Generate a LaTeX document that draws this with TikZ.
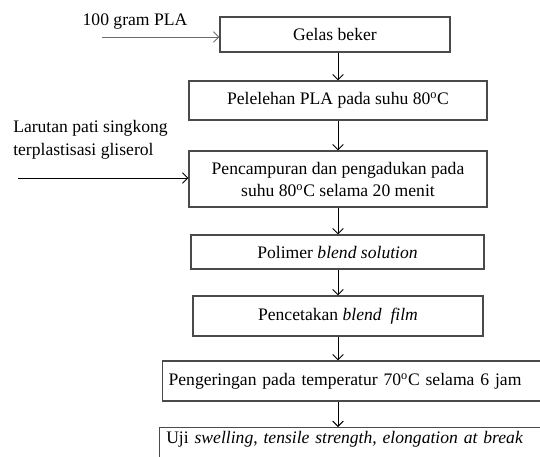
\documentclass[tikz,border=0pt]{standalone}
\usepackage{fontspec}
\setmainfont{Liberation Serif}
\usetikzlibrary{arrows.meta}
\definecolor{edgec}{HTML}{4A4A4A}
\definecolor{feedc}{HTML}{6B6B6B}
\tikzset{
  box/.style={draw=edgec,line width=0.9pt,align=center,inner sep=2pt,font=\fontsize{13.2}{16.5}\selectfont},
  ar/.style={-{Straight Barb[length=4pt,width=8pt]},line width=0.7pt,black},
  lbl/.style={font=\fontsize{13.2}{17.5}\selectfont,align=left,inner sep=0pt}
}

\begin{document}
\begin{tikzpicture}[x=0.75pt,y=-0.75pt]
\useasboundingbox (0,0) rectangle (540,457);
\clip (0,0) rectangle (540,457);
% process steps
\node[box,minimum width=172.5pt,minimum height=26.25pt] (beker) at (335,34.5) {Gelas beker};
\node[box,minimum width=223.5pt,minimum height=29.25pt] (leleh) at (338,100.5) {Pelelehan PLA pada suhu 80\textsuperscript{o}C};
\node[box,minimum width=223.5pt,minimum height=42pt] (campur) at (338,179) {Pencampuran dan pengadukan pada\\suhu 80\textsuperscript{o}C selama 20 menit};
\node[box,minimum width=219.75pt,minimum height=25.5pt] (polimer) at (337.5,252) {Polimer \textit{blend solution}};
\node[box,minimum width=217.5pt,minimum height=30pt] (cetak) at (338,316) {Pencetakan \textit{blend~ film}};
\node[box,anchor=west,align=left,text width=297pt,inner xsep=4.5pt,minimum height=30pt] (kering) at (162,381) {Pengeringan pada temperatur 70\textsuperscript{o}C selama 6 jam};
\node[box,anchor=north west,align=left,text width=297pt,inner xsep=5pt,inner ysep=3pt,text depth=18pt] (uji) at (159,427) {Uji \textit{swelling}, \textit{tensile strength}, \textit{elongation at break}};
% inputs
\coordinate (pla) at (102,37);
\coordinate (pati) at (18,178);
\node[lbl] (plalbl) at (135,22) {100 gram PLA};
\node[lbl,anchor=west] (patilbl) at (13,140) {Larutan pati singkong\\terplastisasi gliserol};
\draw[ar,feedc] (pla) -- (pla -| beker.west);
\draw[ar] (pati) -- (pati -| campur.west);
% flow
\draw[ar] (beker.south -| leleh) -- (leleh.north);
\draw[ar] (leleh) -- (campur);
\draw[ar] (campur.south) -- (polimer.north -| campur);
\draw[ar] (polimer.south -| campur) -- (cetak.north -| campur);
\draw[ar] (cetak.south -| campur) -- (kering.north -| campur);
\draw[ar] (kering.south -| campur) -- (uji.north -| campur);
\end{tikzpicture}
\end{document}
